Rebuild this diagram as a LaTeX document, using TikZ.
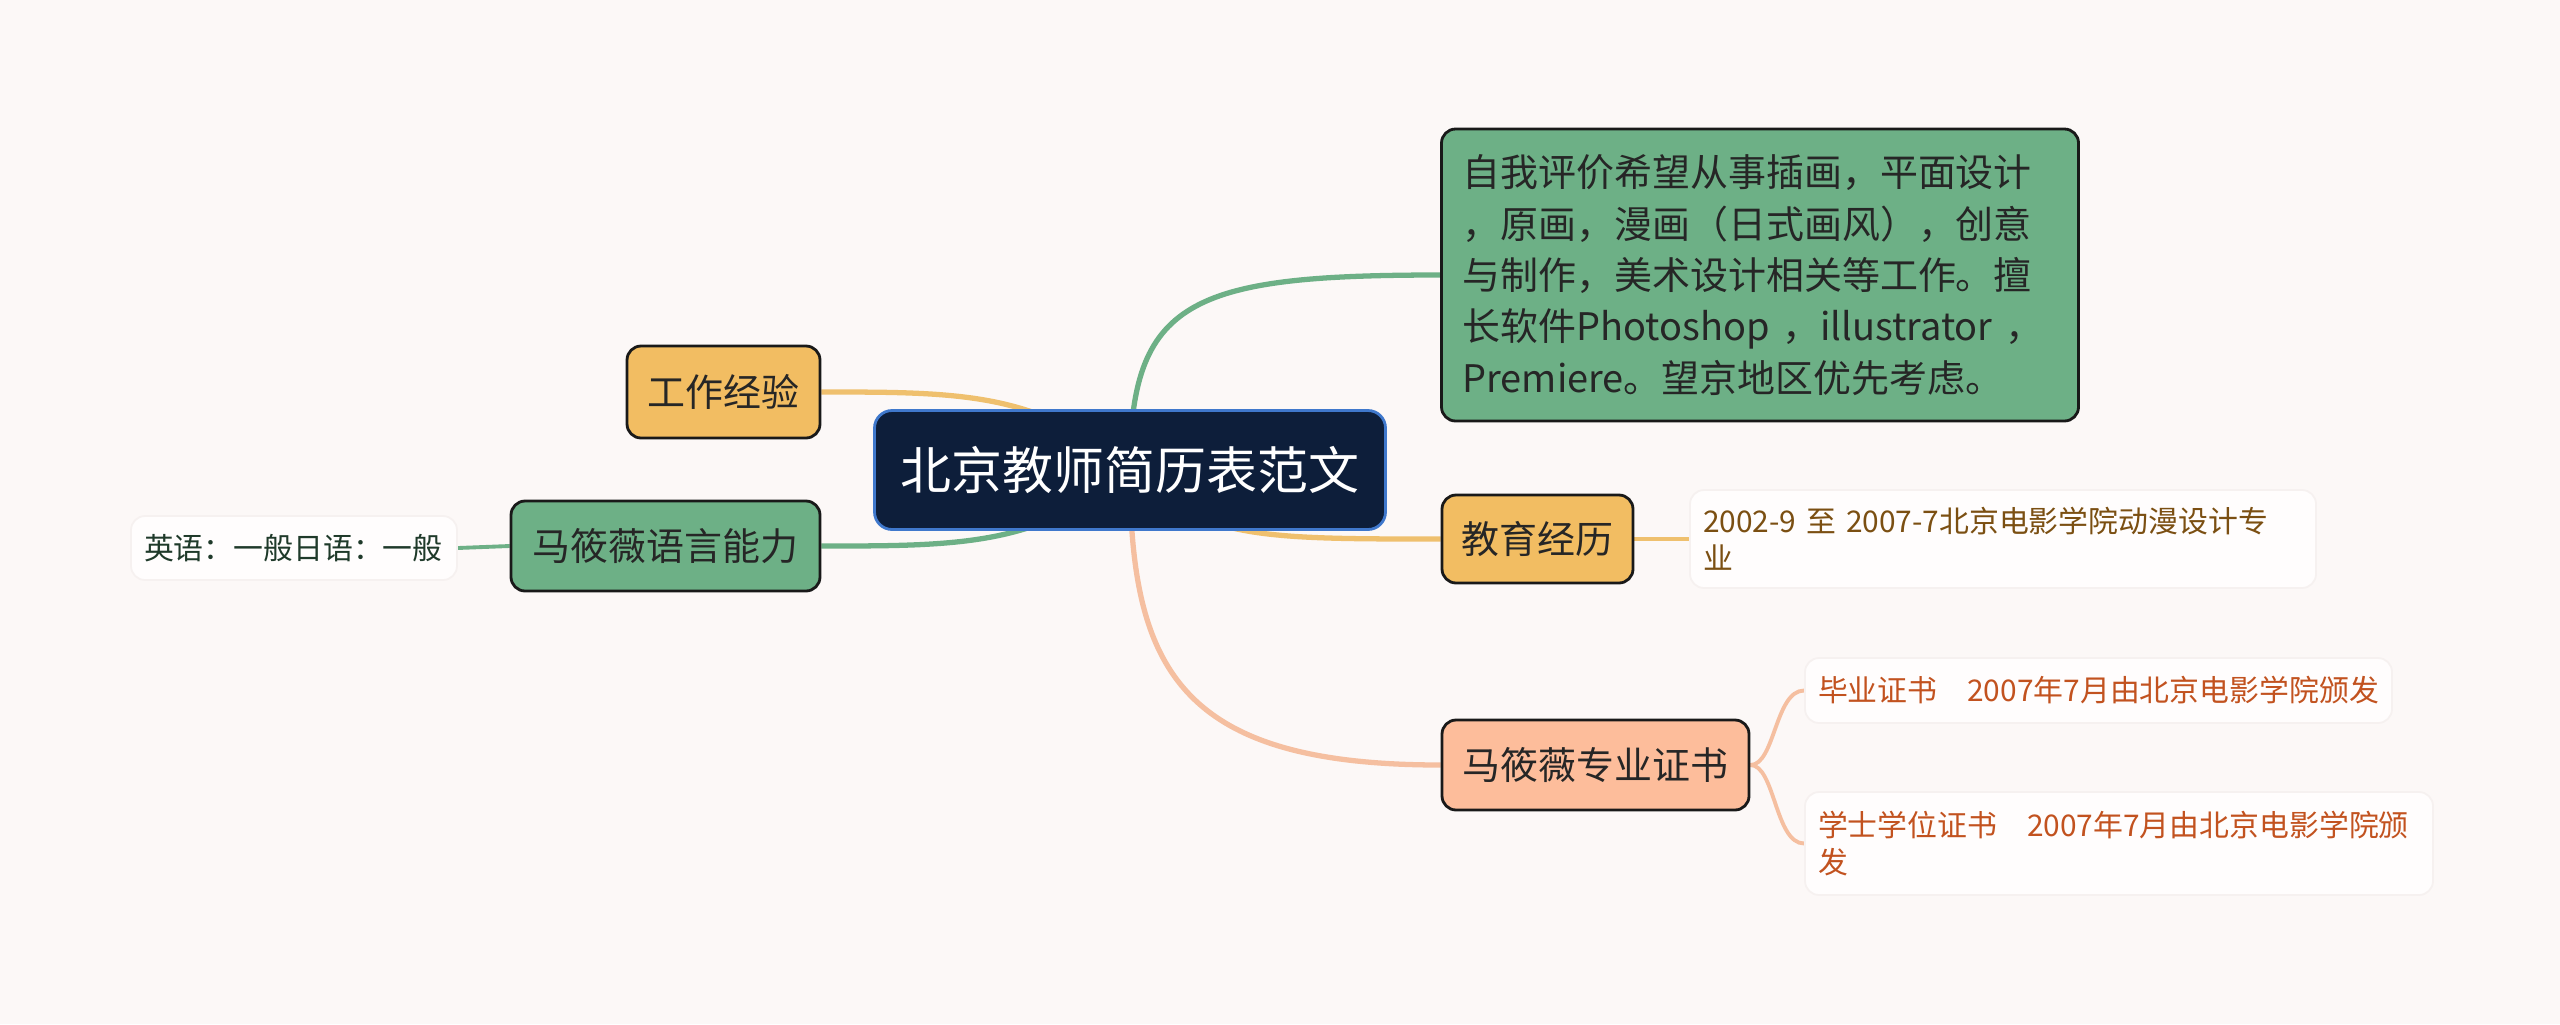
\documentclass[tikz,border=0pt]{standalone}
\usepackage{fontspec}
\setmainfont{Noto Sans CJK SC}
\usepackage{xcolor}
\usepackage{tikz}
\usetikzlibrary{backgrounds}

\definecolor{bgpaper}{HTML}{FCF8F7}
\definecolor{rootfill}{HTML}{0D1E3A}
\definecolor{rootline}{HTML}{3F78CC}
\definecolor{greenfill}{HTML}{6DB086}
\definecolor{goldfill}{HTML}{F2BD62}
\definecolor{peachfill}{HTML}{FDBD9B}
\definecolor{greenline}{HTML}{6DB086}
\definecolor{goldline}{HTML}{EFC06E}
\definecolor{peachline}{HTML}{F5BFA0}
\definecolor{inktext}{HTML}{262626}
\definecolor{edutext}{HTML}{7B4F12}
\definecolor{certtext}{HTML}{C2521F}
\definecolor{langtext}{HTML}{1F3A2A}
\definecolor{leafedge}{HTML}{F6F1F0}
\definecolor{leaffill}{HTML}{FFFDFD}

\begin{document}
\begin{tikzpicture}[
  topic/.style={draw=black!90, line width=0.8pt, rounded corners=4pt, text=inktext, inner sep=0pt, font=\fontsize{10.8}{14.6}\selectfont},
  leaf/.style={draw=leafedge, fill=leaffill, line width=0.5pt, rounded corners=4pt, inner xsep=0.13cm, inner ysep=0pt, align=left, font=\fontsize{8.5}{10.5}\selectfont},
  branch/.style={line width=1.5pt},
  twig/.style={line width=1.1pt}]
  % centre
  \node[draw=rootline, fill=rootfill, line width=0.8pt, rounded corners=5pt, text=white, font=\fontsize{14.5}{17}\selectfont, minimum width=5.11cm, minimum height=1.19cm] (root) at (11.3,-4.7) {北京教师简历表范文};
  % right side
  \node[topic, fill=greenfill, text width=5.95cm, align=left, inner xsep=0.21cm, minimum height=2.92cm] (selfeval) at (17.6,-2.75) {自我评价希望从事插画，平面设计\\，原画，漫画（日式画风），创意\\与制作，美术设计相关等工作。擅\\长软件Photoshop ，illustrator ，\\Premiere。望京地区优先考虑。};
  \node[topic, fill=goldfill, minimum width=1.91cm, minimum height=0.88cm] (edu) at (15.375,-5.39) {教育经历};
  \node[topic, fill=peachfill, minimum width=3.07cm, minimum height=0.9cm] (cert) at (15.955,-7.65) {马筱薇专业证书};
  \node[leaf, text=edutext, text width=6.0cm, minimum height=0.98cm] (eduleaf) at (20.03,-5.39) {2002-9 至 2007-7北京电影学院动漫设计专\\业};
  \node[leaf, text=certtext, text width=5.61cm, minimum height=0.65cm] (diploma) at (20.985,-6.905) {毕业证书　2007年7月由北京电影学院颁发};
  \node[leaf, text=certtext, text width=6.02cm, minimum height=1.03cm] (degree) at (21.19,-8.435) {学士学位证书　2007年7月由北京电影学院颁\\发};
  % left side
  \node[topic, fill=goldfill, minimum width=1.93cm, minimum height=0.92cm] (work) at (7.235,-3.92) {工作经验};
  \node[topic, fill=greenfill, minimum width=3.09cm, minimum height=0.9cm] (lang) at (6.655,-5.46) {马筱薇语言能力};
  \node[leaf, text=langtext, text width=3.0cm, minimum height=0.64cm] (langleaf) at (2.94,-5.48) {英语：一般日语：一般};
  % connectors
  \begin{scope}[on background layer]
    \fill[bgpaper] (0,0) rectangle (25.6,-10.24);
    \draw[branch, greenline] (root.center) .. controls (11.3,-3.0) and (11.9,-2.75) .. (selfeval.west);
    \draw[branch, goldline] (root.center) .. controls (12.0,-5.39) and (12.6,-5.39) .. (edu.west);
    \draw[branch, peachline] (root.center) .. controls (11.3,-6.7) and (11.8,-7.65) .. (cert.west);
    \draw[branch, goldline] (root.center) .. controls (10.4,-3.92) and (9.6,-3.92) .. (work.east);
    \draw[branch, greenline] (root.center) .. controls (10.4,-5.46) and (9.6,-5.46) .. (lang.east);
    \draw[twig, goldline] (edu.east) -- (eduleaf.west);
    \draw[twig, peachline] (cert.east) .. controls (17.75,-7.65) and (17.75,-6.905) .. (diploma.west);
    \draw[twig, peachline] (cert.east) .. controls (17.75,-7.65) and (17.75,-8.435) .. (degree.west);
    \draw[twig, greenline] (lang.west) -- (langleaf.east);
  \end{scope}
\end{tikzpicture}
\end{document}
